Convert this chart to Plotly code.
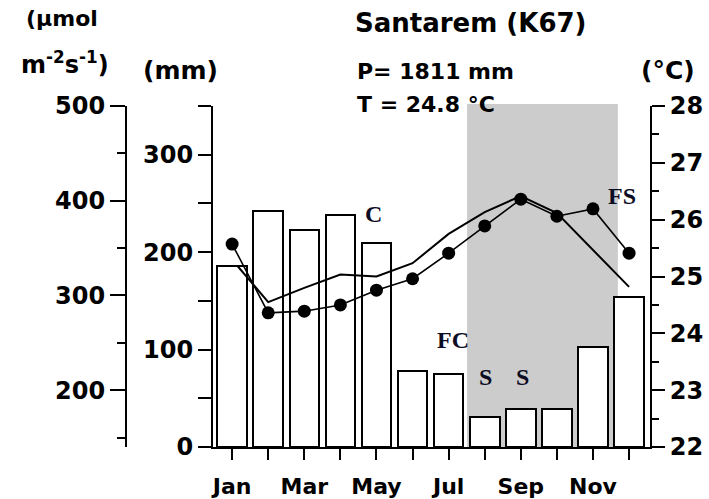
import plotly.graph_objects as go

# Monthly climatology, Santarem (K67)
months = ["Jan", "Feb", "Mar", "Apr", "May", "Jun",
          "Jul", "Aug", "Sep", "Oct", "Nov", "Dec"]
labelled_months = [0, 2, 4, 6, 8, 10]
other_months = [1, 3, 5, 7, 9, 11]
precip_mm = [186, 242, 223, 238, 209, 78, 75, 31, 39, 39, 103, 154]
temp_c = [25.57, 24.36, 24.39, 24.50, 24.76, 24.96, 25.41, 25.89, 26.36, 26.06, 26.19, 25.41]
par_x = [-0.4, 0.15, 1, 2, 3, 4, 5, 6, 7, 8, 9, 10, 11]
par_umol = [331, 331, 293, 308, 322, 320, 334, 365, 388, 405, 387, 348, 309]
dry_season = [6.51, 10.69]
phase_labels = [("C", 3.92, 26.1), ("FC", 6.12, 23.88), ("S", 7.02, 23.23),
                ("S", 8.05, 23.23), ("FS", 10.8, 26.42)]

W, H = 709, 499
L, R, T, B = 126, 650, 106, 447   # outer µmol axis, right °C axis, top, x axis
X0 = 213                           # mm axis / start of the month axis
dom0 = (X0 - L) / (R - L)

FONT = "DejaVu Sans"
BLACK = "#000000"


def px(x):
    return (x - L) / (R - L)


def py(y):
    return (B - y) / (B - T)


fig = go.Figure()

fig.add_trace(go.Bar(
    x=list(range(12)), y=precip_mm, width=0.82,
    marker=dict(color="white", line=dict(color=BLACK, width=2)),
    yaxis="y", showlegend=False,
))

fig.add_trace(go.Scatter(
    x=par_x, y=par_umol, mode="lines",
    line=dict(color=BLACK, width=2), yaxis="y2", showlegend=False,
))

fig.add_trace(go.Scatter(
    x=list(range(12)), y=temp_c, mode="lines+markers",
    line=dict(color=BLACK, width=1.6),
    marker=dict(color=BLACK, size=13), yaxis="y3", showlegend=False,
))

fig.add_shape(type="rect", xref="x", yref="paper",
              x0=dry_season[0], x1=dry_season[1], y0=0, y1=1.006,
              fillcolor="#cccccc", line=dict(width=0), layer="below")

tickfont = dict(family=FONT, size=24, color=BLACK, weight="bold")

fig.update_layout(
    width=W, height=H,
    margin=dict(l=L, r=W - R, t=T, b=H - B, pad=0, autoexpand=False),
    plot_bgcolor="white", paper_bgcolor="white",
    bargap=0,
    xaxis=dict(
        domain=[dom0, 1], range=[-0.53, 11.58], automargin=False,
        tickvals=labelled_months, ticktext=[months[i] for i in labelled_months],
        ticks="outside", ticklen=11, tickwidth=1.5, tickcolor=BLACK,
        minor=dict(tickvals=other_months, ticks="outside",
                   ticklen=11, tickwidth=1.5, tickcolor=BLACK),
        ticklabelstandoff=8,
        showline=True, linecolor=BLACK, linewidth=2,
        showgrid=False, zeroline=False,
        tickfont=dict(family=FONT, size=22, color=BLACK, weight="bold"),
    ),
    yaxis=dict(
        range=[0, 350], tickvals=[0, 100, 200, 300], automargin=False,
        ticks="outside", ticklen=13, tickwidth=2, tickcolor=BLACK,
        minor=dict(tickvals=[50, 150, 250, 350], ticks="outside",
                   ticklen=13, tickwidth=2, tickcolor=BLACK),
        showline=True, linecolor=BLACK, linewidth=2,
        showgrid=False, zeroline=False, tickfont=tickfont,
    ),
    yaxis2=dict(
        overlaying="y", anchor="free", position=0, side="left", automargin=False,
        range=[140, 500], tickvals=[200, 300, 400, 500],
        ticks="outside", ticklen=15, tickwidth=2, tickcolor=BLACK,
        minor=dict(tickvals=[150, 250, 350, 450], ticks="outside",
                   ticklen=8, tickwidth=2, tickcolor=BLACK),
        showline=True, linecolor=BLACK, linewidth=2,
        showgrid=False, zeroline=False, tickfont=tickfont,
    ),
    yaxis3=dict(
        overlaying="y", anchor="x", side="right", automargin=False,
        range=[22, 28], tickvals=[22, 23, 24, 25, 26, 27, 28],
        ticks="outside", ticklen=13, tickwidth=2, tickcolor=BLACK,
        minor=dict(tickvals=[22.5, 23.5, 24.5, 25.5, 26.5, 27.5], ticks="outside",
                   ticklen=7, tickwidth=2, tickcolor=BLACK),
        showline=True, linecolor=BLACK, linewidth=2,
        showgrid=False, zeroline=False, tickfont=tickfont,
    ),
)

texts = [
    ("Santarem (K67)", 353, 23, 26),
    ("P= 1811 mm", 355, 71, 22),
    ("T = 24.8 °C", 355, 104, 22),
]
for txt, x, y, s in texts:
    fig.add_annotation(text=txt, xref="paper", yref="paper", x=px(x), y=py(y),
                       xanchor="left", yanchor="middle", showarrow=False,
                       font=dict(family=FONT, size=s, color=BLACK, weight="bold"))

units = [
    ("(µmol", 62, 18, 22),
    ("m<sup>-2</sup>s<sup>-1</sup>)", 65, 63, 24),
    ("(mm)", 180, 70, 25),
    ("(°C)", 668, 70, 25),
]
for txt, x, y, s in units:
    fig.add_annotation(text=txt, xref="paper", yref="paper", x=px(x), y=py(y),
                       xanchor="center", yanchor="middle", showarrow=False,
                       font=dict(family=FONT, size=s, color=BLACK, weight="bold"))

for txt, mx, ty in phase_labels:
    fig.add_annotation(text=txt, xref="x", yref="y3", x=mx, y=ty,
                       xanchor="center", yanchor="middle", showarrow=False,
                       font=dict(family="Liberation Serif", size=24,
                                 color="#0c0c24", weight="bold"))

fig.write_html("out.html")
